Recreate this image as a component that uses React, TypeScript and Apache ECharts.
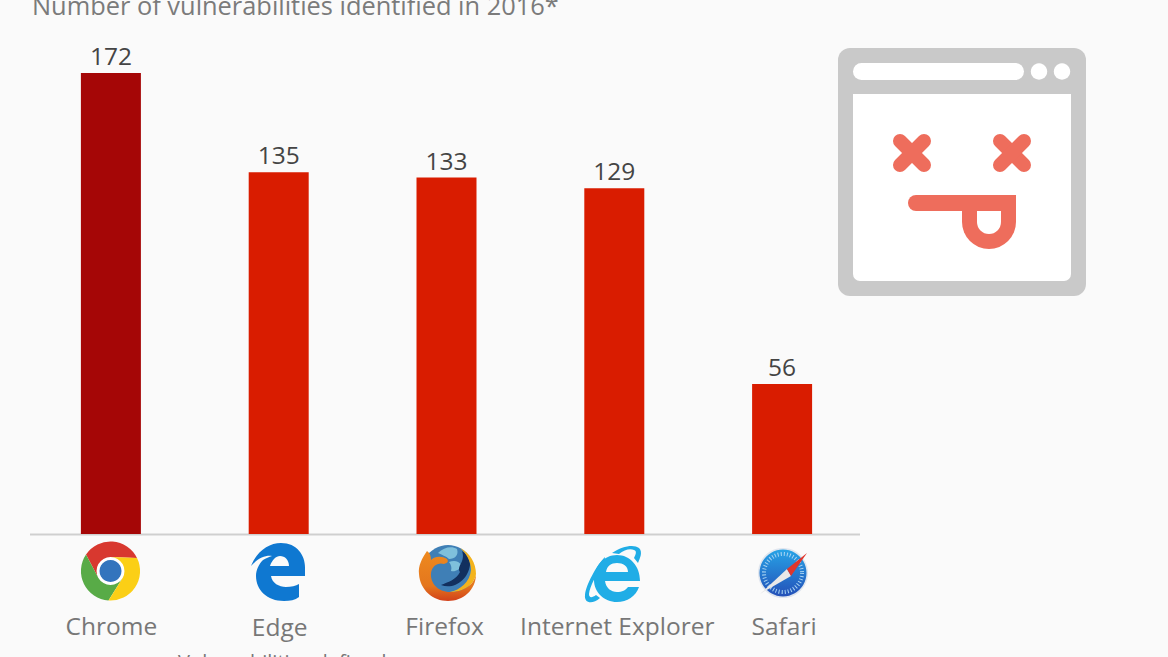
import React, { useEffect, useRef } from "react";
import * as echarts from "echarts";

const browsers = ["Chrome", "Edge", "Firefox", "Internet Explorer", "Safari"];
const vulnerabilities = [172, 135, 133, 129, 56];
const highlightIndex = 0;
const titleText = "Number of vulnerabilities identified in 2016*";
const footnoteText = "Vulnerabilities defined as";
// label nudges [down, right] in px, to follow the reference's hand-placed labels
const labelNudges = [[0, 0.5], [0.5, 1], [0, -2], [0, 3], [0, 2]];

const FONT = "'Open Sans', 'Noto Sans', sans-serif";

function rot(dx: number, dy: number, deg: number, cx: number, cy: number) {
  const a = (deg * Math.PI) / 180;
  const x = dx * Math.cos(a) + dy * Math.sin(a);
  const y = -dx * Math.sin(a) + dy * Math.cos(a);
  return `${(cx + x).toFixed(2)},${(cy + y).toFixed(2)}`;
}

function chromeSeg(deg: number) {
  const cx = 110.5, cy = 571, R = 29.5, r = 14;
  return `M${rot(26.5, -13, deg, cx, cy)} A${R},${R} 0 0 0 ${rot(-24.5, -16.5, deg, cx, cy)} L${rot(-12.1, 7, deg, cx, cy)} A${r},${r} 0 0 1 ${rot(0, -14, deg, cx, cy)} Z`;
}

const shapes: Record<string, string> = {
  chromeRed: chromeSeg(0),
  chromeGreen: chromeSeg(120),
  chromeYellow: chromeSeg(-120),
  edge:
    "M251,566 C257,551 269,543 281,543 C297,543 305,555 305,568 L305,576 L271,576 C272,583 279,587 286,587 C291,587 296,586 299,584 L299,597 C295,600 290,601 284,601 C267,601 256,590 256,576 C256,570 259,564 263,560 C266,558 269,557 272,556 C265,555 257,559 251,566 Z M270,566 L289,566 C289,560 285,556 280,556 C276,556 272,560 270,566 Z",
  ieBody:
    "M594,580 C594,566 604,555 617,555 C630,555 640,566 640,581 L605,581 C606,588 611,592 617,592 C622,592 626,590 628,587 L639,587 C636,596 627,602 617,602 C604,602 594,592 594,580 Z M606,572 L628,572 C628,566 623,563 617,563 C611,563 607,566 606,572 Z",
  ieRingLow:
    "M605,557 C596,566 586,585 585,595 C584,603 592,605 600,598 L596,595 C592,598 589,598 589,594 C590,586 596,574 604,566 Z",
  ieRingTop:
    "M612,553 C622,546 634,544 639,548 C643,552 640,558 638,563 L634,558 C636,554 637,551 634,550 C630,548 624,550 619,554 Z",
  foxOrange:
    "M427,551 C422,558 418,566 419,574 C420,590 433,601 448,601 C463,601 476,590 476,574 C474,586 462,592 450,592 C438,592 430,583 431,573 C432,566 438,562 444,564 C447,563 449,562 447,559 C442,556 435,556 431,560 C431,556 430,553 427,551 Z",
  foxYellow:
    "M460,548 C470,553 476,563 476,574 C474,586 462,592 450,592 C460,590 470,582 471,570 C471,561 466,553 460,548 Z",
  foxPatch: "M438,553 C444,547 452,546 457,549 C459,555 455,559 449,559 C446,556 442,555 438,553 Z",
  foxPatch2: "M449,562 C454,560 459,561 461,565 C460,570 455,572 451,571 C452,567 451,565 449,562 Z",
  foxDark: "M441,585 C454,590 468,580 470,565 C470,558 466,553 462,551 C466,562 456,566 460,572 C456,580 448,582 441,585 Z",
  compassRed: "M807,553 L787,569 L791,576 Z",
  compassWhite: "M760,594 L787,569 L791,576 Z",
  tongueOuter: "M962,211 L962,222 A27,27 0 0 0 1016,222 L1016,195 L962,195 Z",
  tongueInner: "M977,211 L977,222 A12,12 0 0 0 1001,222 L1001,211 Z",
};
Object.keys(shapes).forEach((k) => {
  echarts.graphic.registerShape(k, echarts.graphic.extendPath(shapes[k], {}) as any);
});

const p = (type: string, fill: any) => ({ type, x: 0, y: 0, silent: true, style: { fill } });

function graphics() {
  const coral = "#ee6d5c";
  const grey = "#c9c9c9";
  const white = "#ffffff";
  const cross = (cx: number, cy: number) =>
    [1, -1].map((s) => ({
      type: "line",
      silent: true,
      shape: { x1: cx - 12, y1: cy - 12 * s, x2: cx + 12, y2: cy + 12 * s },
      style: { stroke: coral, lineWidth: 14, lineCap: "round" },
    }));
  return [
    { type: "line", silent: true, shape: { x1: 30, y1: 534.5, x2: 860, y2: 534.5 }, style: { stroke: "#cfcfcf", lineWidth: 2 } },
    { type: "text", silent: true, x: 178, y: 651, style: { text: footnoteText, font: `20px ${FONT}`, fill: "#777777", textVerticalAlign: "top" } },

    // Chrome
    { type: "circle", silent: true, shape: { cx: 110.5, cy: 571, r: 29.5 }, style: { fill: "#ffffff" } },
    p("chromeRed", "#d8382f"),
    p("chromeGreen", "#58ab47"),
    p("chromeYellow", "#fbcf16"),
    { type: "circle", silent: true, shape: { cx: 110.5, cy: 571, r: 11 }, style: { fill: "#3374bd" } },

    // Edge
    p("edge", "#0f78d1"),

    // Firefox
    { type: "circle", silent: true, shape: { cx: 448, cy: 571, r: 26 }, style: { fill: "#3f7fb6" } },
    p("foxPatch", "#7fc0dc"),
    p("foxPatch2", "#7fc0dc"),
    p("foxDark", "#12305f"),
    p("foxOrange", {
      type: "linear", x: 0, y: 0, x2: 0, y2: 1,
      colorStops: [{ offset: 0, color: "#ee8a1f" }, { offset: 0.7, color: "#e4761d" }, { offset: 1, color: "#d2401a" }],
    }),
    p("foxYellow", "#f3b31c"),

    // Internet Explorer
    p("ieRingLow", "#20ade6"),
    p("ieRingTop", "#20ade6"),
    p("ieBody", "#20ade6"),

    // Safari
    { type: "circle", silent: true, shape: { cx: 783, cy: 573, r: 25 }, style: { fill: "#dfe5ee" } },
    {
      type: "circle",
      silent: true,
      shape: { cx: 783, cy: 573, r: 23.5 },
      style: {
        fill: { type: "linear", x: 0, y: 0, x2: 0, y2: 1, colorStops: [{ offset: 0, color: "#27a3e6" }, { offset: 1, color: "#2450b8" }] },
      },
    },
    { type: "circle", silent: true, shape: { cx: 783, cy: 573, r: 19 }, style: { fill: "none", stroke: "#a9d4f2", lineWidth: 4, lineDash: [1, 2] } },
    p("compassWhite", "#e8e8e8"),
    p("compassRed", "#e0352c"),

    // Browser window illustration
    { type: "rect", silent: true, shape: { x: 838, y: 48, width: 248, height: 248, r: 12 }, style: { fill: grey } },
    { type: "rect", silent: true, shape: { x: 853, y: 94, width: 218, height: 187, r: [0, 0, 7, 7] }, style: { fill: white } },
    { type: "rect", silent: true, shape: { x: 853, y: 63, width: 171, height: 17, r: 8.5 }, style: { fill: white } },
    { type: "circle", silent: true, shape: { cx: 1039, cy: 71.5, r: 8.2 }, style: { fill: white } },
    { type: "circle", silent: true, shape: { cx: 1062, cy: 71.5, r: 8.2 }, style: { fill: white } },
    ...cross(912, 153),
    ...cross(1012, 153),
    { type: "rect", silent: true, shape: { x: 908, y: 195, width: 108, height: 16, r: [8, 0, 0, 8] }, style: { fill: coral } },
    p("tongueOuter", coral),
    p("tongueInner", white),
  ];
}

export default function App() {
  const ref = useRef<HTMLDivElement>(null);
  useEffect(() => {
    const chart = echarts.init(ref.current!, undefined, { renderer: "svg" });
    chart.setOption({
      animation: false,
      backgroundColor: "#fafafa",
      textStyle: { fontFamily: FONT },
      title: {
        text: titleText,
        left: 32,
        top: -8,
        padding: 0,
        textStyle: { fontFamily: FONT, fontSize: 25.4, fontWeight: "normal", color: "#7b7b7b" },
      },
      grid: { left: 27, right: 302, top: 73, bottom: 123 },
      xAxis: {
        type: "category",
        data: browsers.map((name, i) => {
          const [down, right] = labelNudges[i];
          return {
            value: name,
            textStyle: {
              padding: [down * 2, right < 0 ? -right * 2 : 0, 0, right > 0 ? right * 2 : 0],
            },
          };
        }),
        axisLine: { show: false },
        axisTick: { show: false },
        axisLabel: { margin: 79, fontFamily: FONT, fontSize: 24.5, color: "#777777", interval: 0 },
      },
      yAxis: { type: "value", min: 0, max: 172, show: false, splitLine: { show: false } },
      series: [
        {
          type: "bar",
          barWidth: 60,
          data: vulnerabilities.map((v, i) => ({
            value: v,
            itemStyle: { color: i === highlightIndex ? "#a50606" : "#d91c00" },
          })),
          label: { show: true, position: "top", distance: 5, fontFamily: FONT, fontSize: 24.5, color: "#444444" },
        },
      ],
      graphic: graphics(),
    });
    return () => chart.dispose();
  }, []);
  return <div ref={ref} style={{ position: "absolute", left: 0, top: 0, width: 1168, height: 657, overflow: "hidden" }} />;
}
